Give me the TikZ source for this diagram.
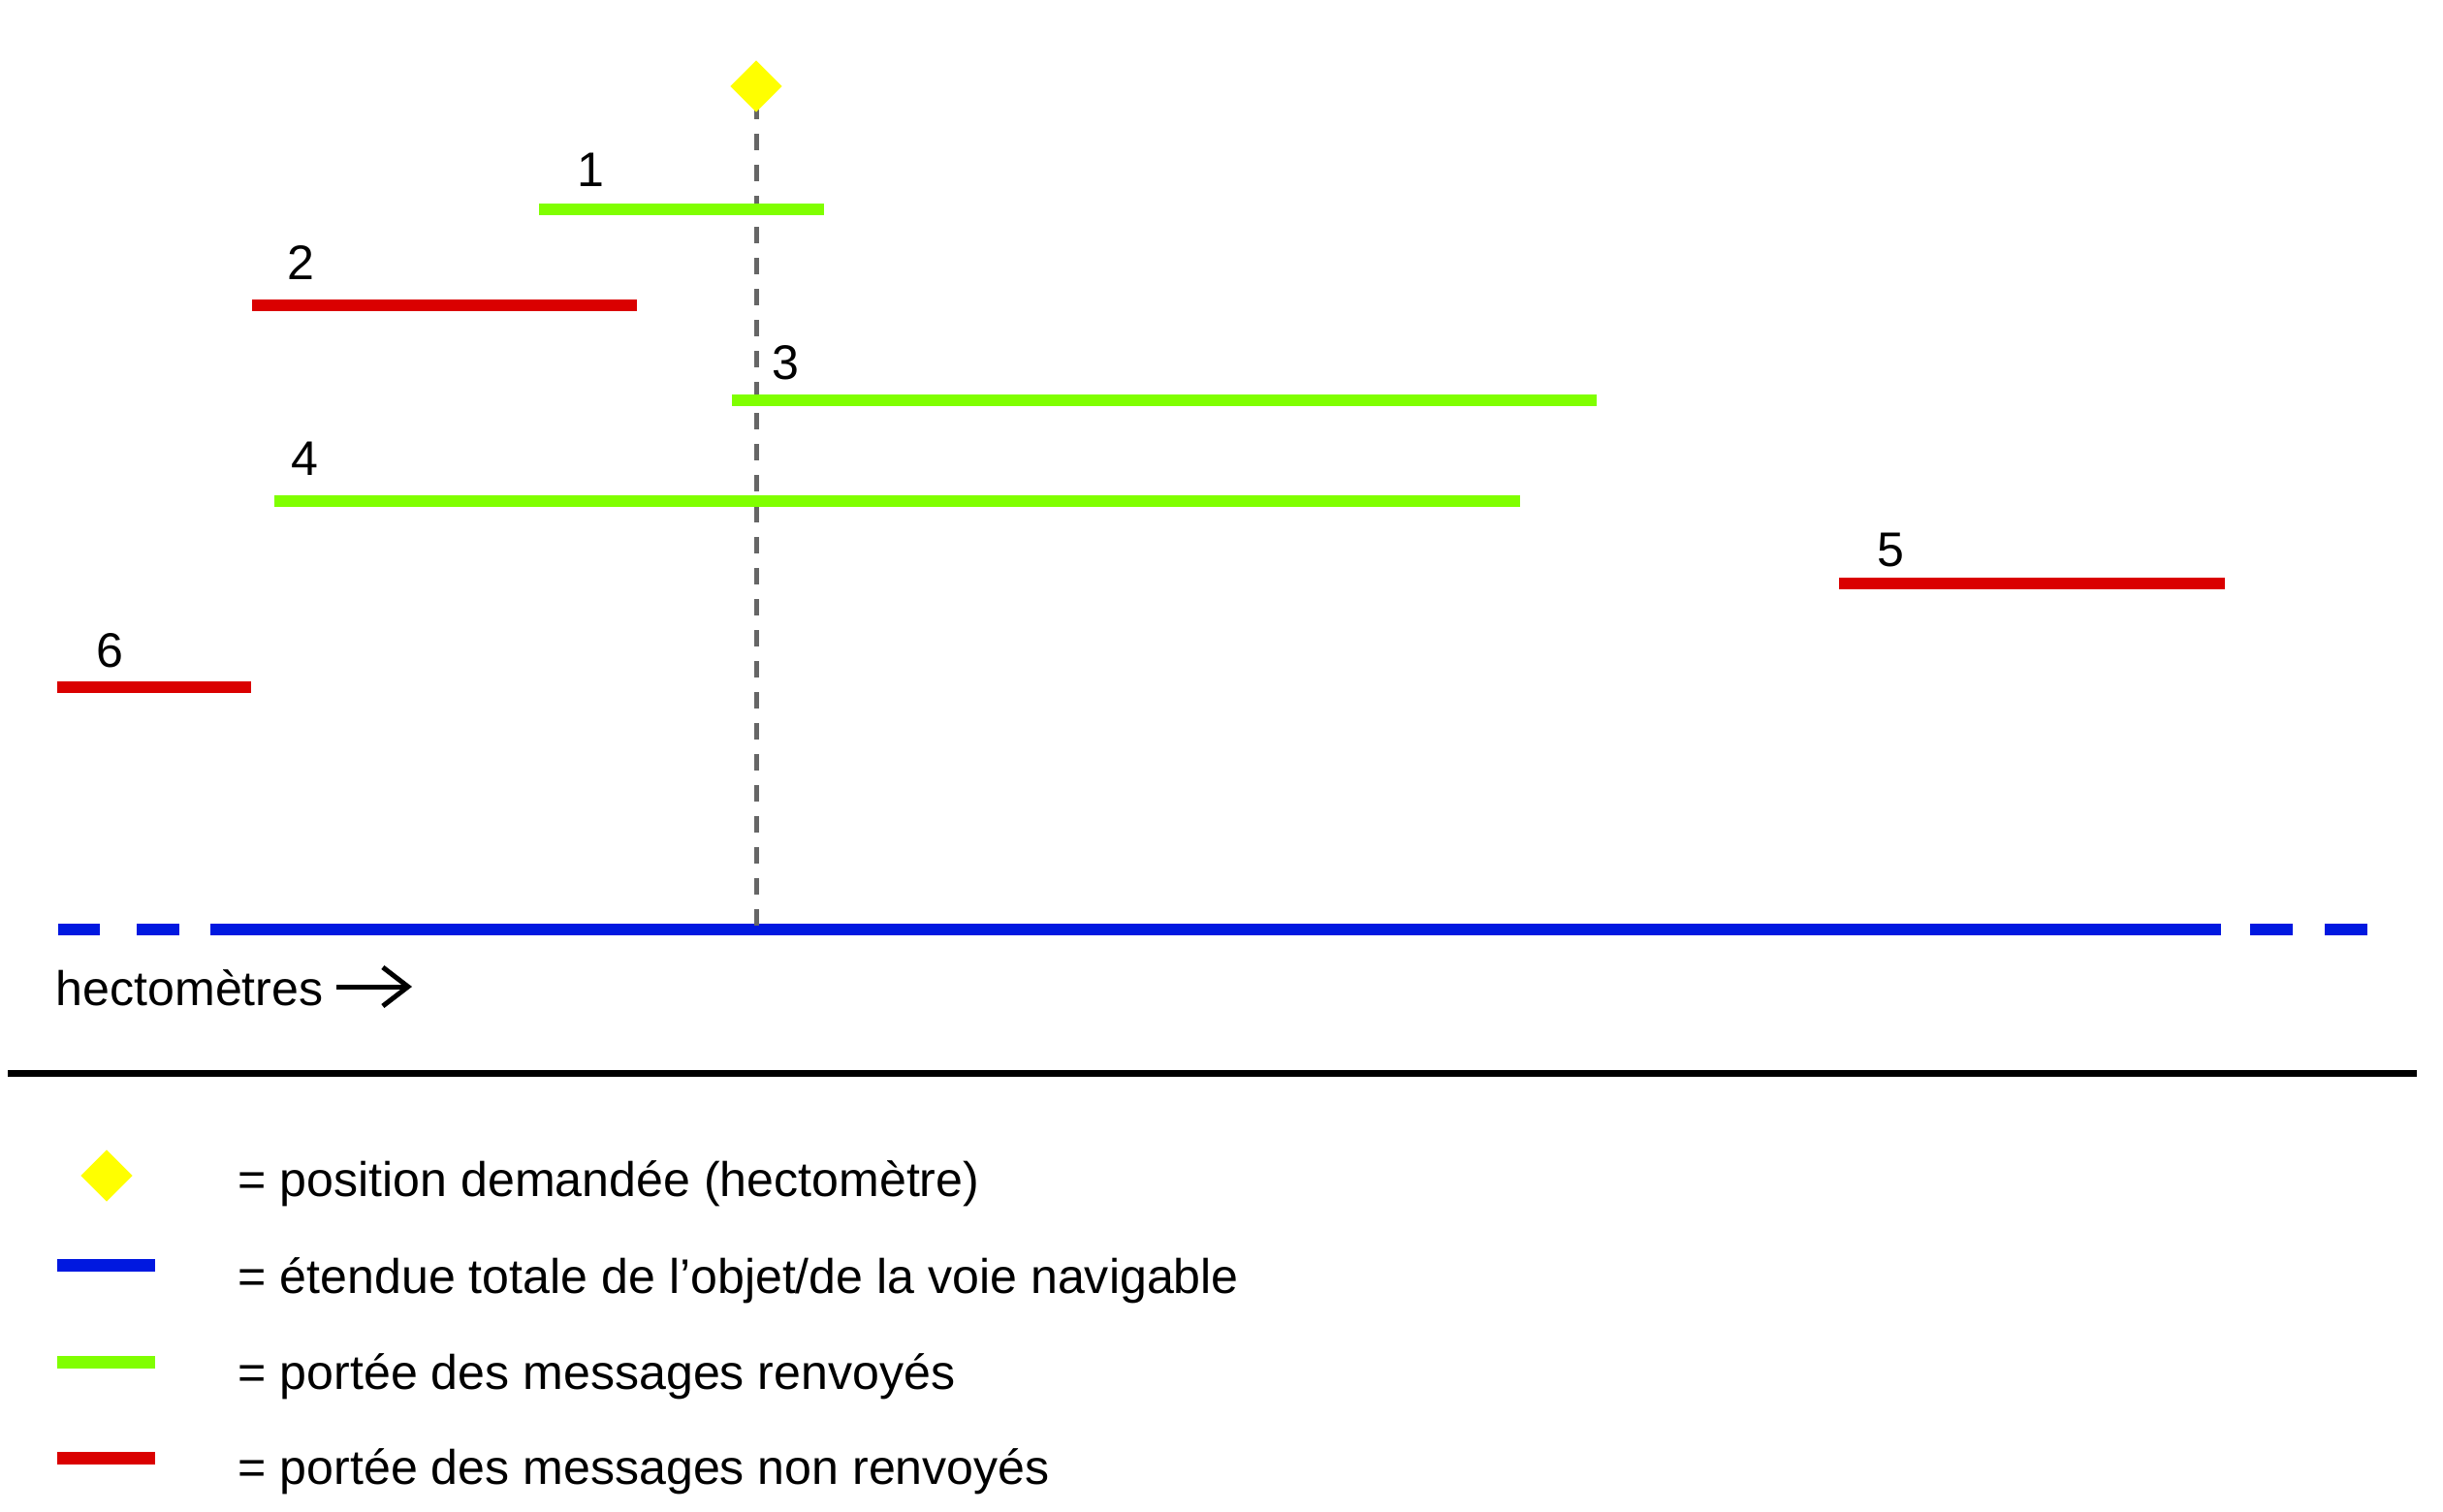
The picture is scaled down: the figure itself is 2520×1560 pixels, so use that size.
\documentclass[tikz,border=0pt]{standalone}
\usepackage{fontspec}
\setmainfont{Liberation Sans}
\usetikzlibrary{shapes.geometric,arrows.meta}
\definecolor{cblue}{RGB}{0,24,224}
\definecolor{cgreen}{RGB}{128,255,0}
\definecolor{cred}{RGB}{218,0,0}
\definecolor{cyellow}{RGB}{255,255,0}
\definecolor{cgray}{RGB}{102,102,102}
\begin{document}
\begin{tikzpicture}[x=0.01cm,y=-0.01cm,
  txt/.style={font=\fontsize{14.25pt}{17pt}\selectfont, inner sep=0pt},
  numlbl/.style={txt, anchor=base},
  leglbl/.style={txt, anchor=base west},
  bar/.style={line width=0.125cm},
  greenbar/.style={bar, cgreen},
  redbar/.style={bar, cred},
  bluebar/.style={bar, cblue},
  posmark/.style={diamond, fill=cyellow, draw=none, inner sep=0pt, minimum width=0.54cm, minimum height=0.54cm},
  guide/.style={cgray, line width=0.05cm, dash pattern=on 0.17cm off 0.15cm},
]
\useasboundingbox (0,0) rectangle (2520,1560);
% axis (blue)
\coordinate (axL) at (217,959);
\coordinate (axR) at (2291,959);
\draw[bluebar] (60,959) -- (103,959);
\draw[bluebar] (141,959) -- (185,959);
\draw[bluebar] (axL) -- (axR);
\draw[bluebar] (2321,959) -- (2365,959);
\draw[bluebar] (2398,959) -- (2442,959);
% guide line and requested position
\coordinate (gtop) at (780,106);
\coordinate (gbot) at (780,959);
\draw[guide] (gtop) -- (gbot);
\node[posmark] (pos) at (780,89) {};
% ranges
\draw[greenbar] (556,216) -- (850,216);
\node[numlbl] (l1) at (609,192) {1};
\draw[redbar] (260,315) -- (657,315);
\node[numlbl] (l2) at (310,288) {2};
\draw[greenbar] (755,413) -- (1647,413);
\node[numlbl] (l3) at (810,391) {3};
\draw[greenbar] (283,517) -- (1568,517);
\node[numlbl] (l4) at (314,490) {4};
\draw[redbar] (1897,602) -- (2295,602);
\node[numlbl] (l5) at (1950,584) {5};
\draw[redbar] (59,709) -- (259,709);
\node[numlbl] (l6) at (113,688) {6};
% axis label
\node[leglbl] (hecto) at (57,1037) {hectomètres};
\coordinate (arS) at (347,1018);
\coordinate (arE) at (425,1018);
\draw[line width=0.05cm, -{Straight Barb[length=0.26cm,width=0.4cm]}] (arS) -- (arE);
% separator
\draw[line width=0.07cm] (8,1107.5) -- (2493,1107.5);
% legend
\node[posmark] (legpos) at (110,1213) {};
\draw[bluebar] (59,1305.5) -- (160,1305.5);
\draw[greenbar] (59,1405.5) -- (160,1405.5);
\draw[redbar] (59,1504.5) -- (160,1504.5);
\node[leglbl] (t1) at (245,1234) {= position demandée (hectomètre)};
\node[leglbl] (t2) at (245,1334) {= étendue totale de l’objet/de la voie navigable};
\node[leglbl] (t3) at (245,1433) {= portée des messages renvoyés};
\node[leglbl] (t4) at (245,1531) {= portée des messages non renvoyés};
\end{tikzpicture}
\end{document}
